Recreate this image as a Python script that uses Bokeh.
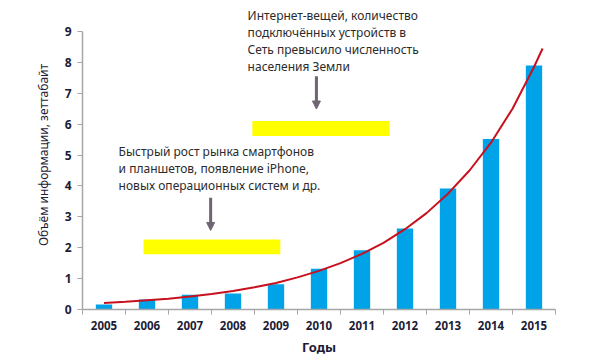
from bokeh.plotting import figure
from bokeh.models import FixedTicker, Range1d, Label, Arrow, NormalHead, BoxAnnotation
from bokeh.embed import file_html
from bokeh.resources import INLINE

years = [2005, 2006, 2007, 2008, 2009, 2010, 2011, 2012, 2013, 2014, 2015]
volume = [0.16, 0.32, 0.48, 0.52, 0.82, 1.32, 1.92, 2.62, 3.92, 5.52, 7.9]
trend_x = [2005.0, 2005.5, 2006.0, 2006.5, 2007.0, 2007.5, 2008.0, 2008.5, 2009.0,
           2009.5, 2010.0, 2010.5, 2011.0, 2011.5, 2012.0, 2012.5, 2013.0, 2013.5,
           2014.0, 2014.5, 2015.0, 2015.2]
trend_y = [0.21, 0.25, 0.30, 0.35, 0.42, 0.50, 0.60, 0.72, 0.86, 1.04, 1.25, 1.50,
           1.80, 2.16, 2.60, 3.12, 3.75, 4.50, 5.40, 6.50, 7.85, 8.45]
y_ticks = [0, 1, 2, 3, 4, 5, 6, 7, 8, 9]
note1 = ["Быстрый рост рынка смартфонов", "и планшетов, появление iPhone,",
         "новых операционных систем и др."]
note2 = ["Интернет-вещей, количество", "подключённых устройств в",
         "Сеть превысило численность", "населения Земли"]

FONT = "Noto Sans"
AX = "#a6a6a6"
TXT = "#1c1c36"

# frame extends above the 9 mark so the upper note is not clipped; axis is bounded to 0..9
FH = 309
p = figure(frame_width=473, frame_height=FH, output_backend="svg", toolbar_location=None,
           x_range=Range1d(2004.5, 2015.5), y_range=Range1d(0, 9 * FH / 278),
           min_border_left=82, min_border_right=28, min_border_top=0, min_border_bottom=43)
p.outline_line_color = None
p.grid.visible = False
p.background_fill_color = "white"
p.border_fill_color = "white"

p.vbar(x=years, top=volume, width=0.38, color="#00a2e8", line_color=None)
p.line(trend_x, trend_y, line_color="#c8101e", line_width=2)

xa = p.xaxis[0]
xa.ticker = FixedTicker(ticks=years, minor_ticks=[y - 0.5 for y in years] + [years[-1] + 0.5])
xa.major_tick_line_color = None
xa.major_tick_out = 5
xa.minor_tick_in = 0
xa.minor_tick_out = 5
xa.minor_tick_line_color = AX
xa.axis_line_color = AX
xa.axis_line_width = 1.5
xa.major_label_text_font = FONT
xa.major_label_text_font_style = "bold"
xa.major_label_text_font_size = "11.5px"
xa.major_label_text_color = TXT
xa.major_label_standoff = 6
xa.axis_label = "Годы"
xa.axis_label_text_font = FONT
xa.axis_label_text_font_style = "bold"
xa.axis_label_text_font_size = "13px"
xa.axis_label_text_color = TXT
xa.axis_label_standoff = 5

ya = p.yaxis[0]
ya.ticker = FixedTicker(ticks=y_ticks)
ya.bounds = (0, 9)
ya.minor_tick_line_color = None
ya.major_tick_in = 0
ya.major_tick_out = 5
ya.major_tick_line_color = AX
ya.axis_line_color = AX
ya.axis_line_width = 1.5
ya.major_label_text_font = FONT
ya.major_label_text_font_style = "bold"
ya.major_label_text_font_size = "12px"
ya.major_label_text_color = TXT
ya.major_label_standoff = 6
ya.axis_label = "Объём информации, зеттабайт"
ya.axis_label_text_font = FONT
ya.axis_label_text_font_style = "normal"
ya.axis_label_text_font_size = "12px"
ya.axis_label_text_color = TXT
ya.axis_label_standoff = 10

# yellow highlight boxes
p.add_layout(BoxAnnotation(left=2005.92, right=2009.1, bottom=1.79, top=2.27,
                           fill_color="#ffff00", fill_alpha=1, line_color=None))
p.add_layout(BoxAnnotation(left=2008.45, right=2011.64, bottom=5.62, top=6.1,
                           fill_color="#ffff00", fill_alpha=1, line_color=None))

# arrows
AC = "#6f6471"
p.add_layout(Arrow(x_start=2007.48, y_start=3.62, x_end=2007.48, y_end=2.56,
                   line_color=AC, line_width=3,
                   end=NormalHead(size=8, fill_color=AC, line_color=AC)))
p.add_layout(Arrow(x_start=2009.94, y_start=7.55, x_end=2009.94, y_end=6.49,
                   line_color=AC, line_width=3,
                   end=NormalHead(size=8, fill_color=AC, line_color=AC)))

# notes
for i, t in enumerate(note1):
    p.add_layout(Label(x=2005.34, y=5.10 - 0.535 * i, text=t, text_font=FONT,
                       text_font_size="12px", text_color="#2b2b2b", text_baseline="middle"))
for i, t in enumerate(note2):
    p.add_layout(Label(x=2008.34, y=9.51 - 0.55 * i, text=t, text_font=FONT,
                       text_font_size="12px", text_color="#2b2b2b", text_baseline="middle"))

open("out.html", "w").write(file_html(p, INLINE))
